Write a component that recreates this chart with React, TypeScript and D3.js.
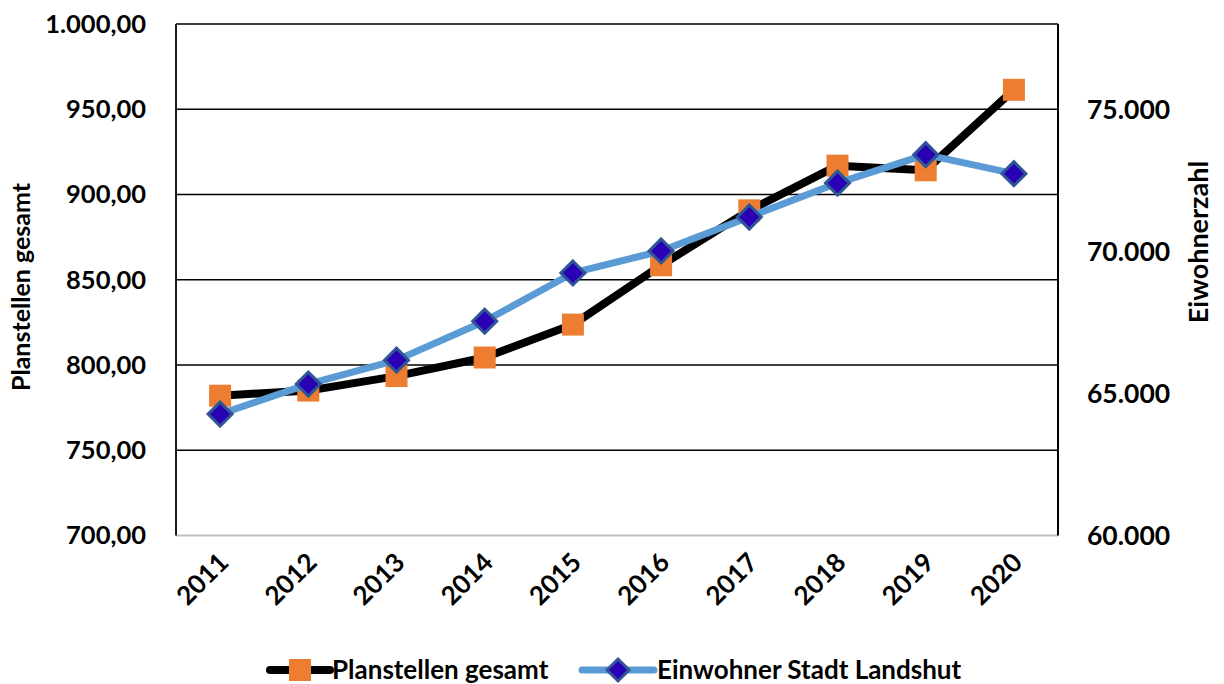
import * as d3 from "d3";

const years = ["2011", "2012", "2013", "2014", "2015", "2016", "2017", "2018", "2019", "2020"];
const planstellen = [782, 785, 793.5, 804.4, 823.7, 858.5, 890.7, 916.9, 914.2, 961.4];
const einwohner = [64272, 65327, 66170, 67541, 69239, 70012, 71208, 72402, 73402, 72733];
const leftTicks = [700, 750, 800, 850, 900, 950, 1000];
const rightTicks = [60000, 65000, 70000, 75000];

const font = "Lato, 'Open Sans', sans-serif";
const fmtLeft = (v: number) =>
  d3.format(",.2f")(v).replace(/,/g, "#").replace(".", ",").replace(/#/g, ".");
const fmtRight = (v: number) => d3.format(",")(v).replace(/,/g, ".");

export default function App() {
  const width = 1224;
  const height = 684;
  const plot = { left: 176, right: 1058, top: 24, bottom: 535.5 };

  const x = d3.scalePoint().domain(years).range([plot.left, plot.right]).padding(0.5);
  const yL = d3.scaleLinear().domain([700, 1000]).range([plot.bottom, plot.top]);
  const yR = d3.scaleLinear().domain([60000, 78000]).range([plot.bottom, plot.top]);

  const lineL = d3.line<number>().x((_, i) => x(years[i]) ?? 0).y(d => yL(d));
  const lineR = d3.line<number>().x((_, i) => x(years[i]) ?? 0).y(d => yR(d));

  const sq = 22;
  const dm = 12;
  const diamond = (cx: number, cy: number, r: number) =>
    `M${cx},${cy - r}L${cx + r},${cy}L${cx},${cy + r}L${cx - r},${cy}Z`;

  return (
    <svg width={width} height={height} style={{ position: "absolute", left: 0, top: 0 }} fontFamily={font} fontWeight={700}>
      <rect width={width} height={height} fill="#fff" />
      {/* grid */}
      {leftTicks.filter(t => t > 700).map(t => (
        <line key={t} x1={plot.left} x2={plot.right} y1={yL(t)} y2={yL(t)} stroke="#000" strokeWidth={1.5} />
      ))}
      <line x1={plot.left} x2={plot.right} y1={plot.bottom} y2={plot.bottom} stroke="#bfbfbf" strokeWidth={2} />
      <line x1={plot.left} x2={plot.left} y1={plot.top} y2={plot.bottom} stroke="#1a1a1a" strokeWidth={2} />
      <line x1={plot.right} x2={plot.right} y1={plot.top} y2={plot.bottom} stroke="#000" strokeWidth={2} />

      {/* left ticks */}
      {leftTicks.map(t => (
        <text key={t} x={146} y={yL(t)} dy="0.35em" textAnchor="end" fontSize={25.5} fill="#000">{fmtLeft(t)}</text>
      ))}
      {/* right ticks */}
      {rightTicks.map(t => (
        <text key={t} x={1087} y={yR(t)} dy="0.35em" textAnchor="start" fontSize={26.5} fill="#000">{fmtRight(t)}</text>
      ))}
      {/* x labels */}
      {years.map(yr => (
        <text key={yr} transform={`translate(${(x(yr) ?? 0) + 10},${564}) rotate(-45)`} textAnchor="end" fontSize={26} fill="#000">{yr}</text>
      ))}

      {/* axis titles */}
      <text transform={`translate(30,287) rotate(-90)`} textAnchor="middle" fontSize={25} fill="#000">Planstellen gesamt</text>
      <text transform={`translate(1208,242) rotate(-90)`} textAnchor="middle" fontSize={27} fill="#000">Eiwohnerzahl</text>

      {/* series 1 */}
      <path d={lineL(planstellen) ?? ""} fill="none" stroke="#000" strokeWidth={8} strokeLinejoin="round" />
      {planstellen.map((v, i) => (
        <rect key={i} x={(x(years[i]) ?? 0) - sq / 2} y={yL(v) - sq / 2} width={sq} height={sq} fill="#ed7d31" />
      ))}
      {/* series 2 */}
      <path d={lineR(einwohner) ?? ""} fill="none" stroke="#5b9bd5" strokeWidth={7} strokeLinejoin="round" />
      {einwohner.map((v, i) => (
        <path key={i} d={diamond(x(years[i]) ?? 0, yR(v), dm)} fill="#2a00b5" stroke="#2f5597" strokeWidth={3} />
      ))}

      {/* legend */}
      <g>
        <line x1={270} x2={330} y1={670} y2={670} stroke="#000" strokeWidth={8} strokeLinecap="round" />
        <rect x={289} y={659} width={22} height={22} fill="#ed7d31" />
        <text x={332} y={670} dy="0.35em" fontSize={26} fill="#000">Planstellen gesamt</text>
        <line x1={582} x2={654} y1={670} y2={670} stroke="#5b9bd5" strokeWidth={7} strokeLinecap="round" />
        <path d={diamond(618, 670, 11)} fill="#2a00b5" stroke="#2f5597" strokeWidth={3} />
        <text x={657} y={670} dy="0.35em" fontSize={26} fill="#000">Einwohner Stadt Landshut</text>
      </g>
    </svg>
  );
}
